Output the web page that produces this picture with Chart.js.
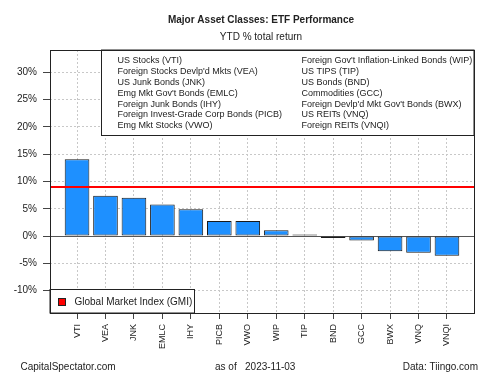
<!DOCTYPE html>
<html>
<head>
<meta charset="utf-8">
<script src="https://cdn.jsdelivr.net/npm/chart.js@4"></script>
<style>
  html, body { margin: 0; padding: 0; background: #fff; }
  #wrap { width: 500px; height: 375px; }
</style>
</head>
<body>
<div id="wrap"><canvas id="myChart" width="500" height="375"></canvas></div>
<script>
// values
const categories = ['VTI', 'VEA', 'JNK', 'EMLC', 'IHY', 'PICB', 'VWO', 'WIP', 'TIP', 'BND', 'GCC', 'BWX', 'VNQ', 'VNQI'];
const returns = [14.1, 7.4, 7.0, 5.8, 4.9, 2.75, 2.75, 1.05, 0.3, -0.37, -0.8, -2.8, -3.06, -3.6];
const gmiReturn = 9.0;
const yTicks = [-10, -5, 0, 5, 10, 15, 20, 25, 30];
const legendLeft = ['US Stocks (VTI)', "Foreign Stocks Devlp'd Mkts (VEA)", 'US Junk Bonds (JNK)',
  "Emg Mkt Gov't Bonds (EMLC)", 'Foreign Junk Bonds (IHY)', 'Foreign Invest-Grade Corp Bonds (PICB)', 'Emg Mkt Stocks (VWO)'];
const legendRight = ["Foreign Gov't Inflation-Linked Bonds (WIP)", 'US TIPS (TIP)', 'US Bonds (BND)',
  'Commodities (GCC)', "Foreign Devlp'd Mkt Gov't Bonds (BWX)", 'US REITs (VNQ)', 'Foreign REITs (VNQI)'];

const FONT = '"Liberation Sans", Arial, sans-serif';
const xMin = -0.95, xMax = categories.length - 0.05;

const extras = {
    id: 'extras',
    beforeDraw(chart) {
        const ctx = chart.ctx;
        ctx.save();
        ctx.fillStyle = '#fff';
        ctx.fillRect(0, 0, chart.width, chart.height);
        ctx.restore();
    },
    beforeDatasetsDraw(chart) {
        // solid zero line
        const ctx = chart.ctx, a = chart.chartArea;
        const y0 = Math.round(chart.scales.y.getPixelForValue(0)) + 0.5;
        ctx.save();
        ctx.strokeStyle = '#555';
        ctx.lineWidth = 1;
        ctx.beginPath();
        ctx.moveTo(a.left, y0);
        ctx.lineTo(a.right, y0);
        ctx.stroke();
        ctx.restore();
    },
    afterDatasetsDraw(chart) {
        const ctx = chart.ctx, a = chart.chartArea;
        ctx.save();

        // top legend box
        const boxL = 101.5, boxT = a.top, boxB = 135.5;
        ctx.fillStyle = '#fff';
        ctx.fillRect(boxL, boxT, a.right - boxL, boxB - boxT);
        ctx.strokeStyle = '#222';
        ctx.lineWidth = 1;
        ctx.strokeRect(boxL, boxT, a.right - boxL, boxB - boxT);
        ctx.fillStyle = '#222';
        ctx.font = '9px ' + FONT;
        ctx.textBaseline = 'middle';
        ctx.textAlign = 'left';
        legendLeft.forEach((t, i) => ctx.fillText(t, 117.5, 61 + i * 10.8));
        legendRight.forEach((t, i) => ctx.fillText(t, 301.5, 61 + i * 10.8));

        // bottom legend box
        const gL = a.left, gT = 289.5, gR = 194.5;
        ctx.fillStyle = '#fff';
        ctx.fillRect(gL, gT, gR - gL, a.bottom - gT);
        ctx.strokeStyle = '#222';
        ctx.strokeRect(gL, gT, gR - gL, a.bottom - gT);
        ctx.fillStyle = '#ff0000';
        ctx.fillRect(58.5, 298.5, 7, 7);
        ctx.strokeRect(58.5, 298.5, 7, 7);
        ctx.fillStyle = '#222';
        ctx.font = '10px ' + FONT;
        ctx.fillText('Global Market Index (GMI)', 74.5, 302.5);

        // plot frame
        ctx.strokeStyle = '#222';
        ctx.strokeRect(a.left + 0.5, a.top + 0.5, a.right - a.left, a.bottom - a.top);

        // titles
        ctx.textAlign = 'center';
        ctx.font = 'bold 10px ' + FONT;
        ctx.fillText('Major Asset Classes: ETF Performance', 261, 20);
        ctx.font = '10px ' + FONT;
        ctx.fillText('YTD % total return', 261, 37);

        // footer
        ctx.textAlign = 'left';
        ctx.fillText('CapitalSpectator.com', 20.5, 367);
        ctx.fillText('as of   2023-11-03', 215, 367);
        ctx.textAlign = 'right';
        ctx.fillText('Data: Tiingo.com', 478, 367);
        ctx.restore();
    }
};

document.addEventListener('DOMContentLoaded', function () {
    const ctx = document.getElementById('myChart').getContext('2d');

    new Chart(ctx, {
        type: 'bar',
        data: {
            datasets: [{
                type: 'line',
                label: 'GMI',
                data: [{ x: xMin, y: gmiReturn }, { x: xMax, y: gmiReturn }],
                borderColor: '#ff0000',
                borderWidth: 2,
                pointRadius: 0,
                order: 0
            }, {
                label: 'YTD return',
                data: returns.map((v, i) => ({ x: i, y: v })),
                backgroundColor: '#1e90ff',
                borderColor: '#1a1a1a',
                borderWidth: 1,
                borderSkipped: false,
                categoryPercentage: 1,
                barPercentage: 0.866,
                order: 1
            }]
        },
        options: {
            responsive: false,
            animation: false,
            layout: { padding: { top: 50, right: 26, left: 0, bottom: 0 } },
            plugins: {
                legend: { display: false },
                title: { display: false },
                tooltip: { enabled: false }
            },
            scales: {
                x: {
                    type: 'linear',
                    min: xMin,
                    max: xMax,
                    offset: false,
                    afterFit: s => { s.height = 62; },
                    afterBuildTicks: s => { s.ticks = categories.map((c, i) => ({ value: i })); },
                    border: { display: false, dash: [2, 2] },
                    grid: {
                        color: '#c8c8c8',
                        lineWidth: 1,
                        offset: false,
                        drawTicks: true,
                        tickLength: 6,
                        tickColor: '#444',
                        tickBorderDash: []
                    },
                    ticks: {
                        autoSkip: false,
                        minRotation: 90,
                        maxRotation: 90,
                        padding: 5,
                        color: '#222',
                        font: { family: FONT, size: 9 },
                        callback: v => categories[Math.round(v)]
                    }
                },
                y: {
                    min: -14.1,
                    max: 34.1,
                    afterFit: s => { s.width = 50; },
                    afterBuildTicks: s => { s.ticks = yTicks.map(v => ({ value: v })); },
                    border: { display: false, dash: [2, 2] },
                    grid: {
                        color: '#c8c8c8',
                        lineWidth: 1,
                        drawTicks: true,
                        tickLength: 7,
                        tickColor: '#444',
                        tickBorderDash: []
                    },
                    ticks: {
                        includeBounds: false,
                        padding: 6,
                        color: '#222',
                        font: { family: FONT, size: 10 },
                        callback: v => v + '%'
                    }
                }
            }
        },
        plugins: [extras]
    });
});
</script>
</body>
</html>
